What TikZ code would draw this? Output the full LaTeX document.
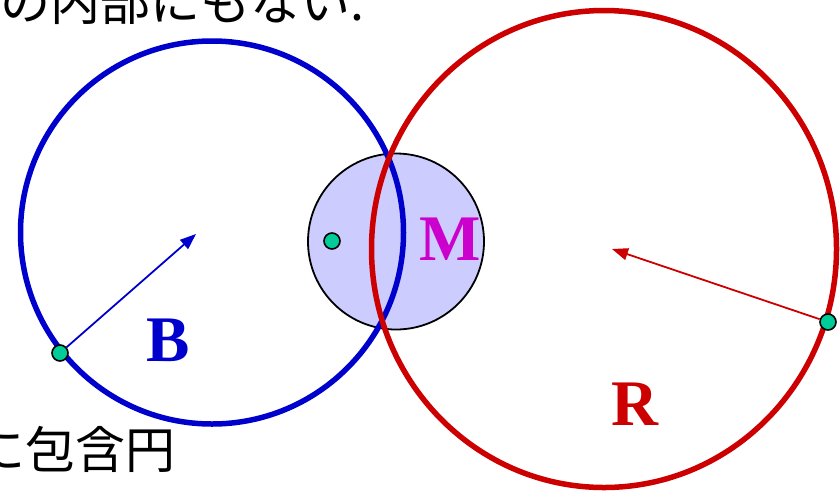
\documentclass[tikz,border=0pt]{standalone}
\usepackage{fontspec}
\setmainfont{Liberation Serif}
\newfontfamily\cjk{Noto Sans CJK JP}
\usetikzlibrary{arrows.meta,shapes.geometric}
\definecolor{bblue}{RGB}{0,0,204}
\definecolor{rred}{RGB}{204,0,0}
\definecolor{mmag}{RGB}{204,0,204}
\definecolor{mfill}{RGB}{204,204,255}
\definecolor{gdot}{RGB}{0,204,153}
\tikzset{
  bigcirc/.style={circle,inner sep=0pt,line width=5.5pt},
  dotnode/.style={circle,inner sep=0pt,minimum size=16pt,fill=gdot,draw=black,line width=1.6pt},
  radarrow/.style={line width=1.8pt,-{Triangle[length=16pt,width=12pt]}},
  lbl/.style={font=\fontsize{65}{70}\selectfont\bfseries,inner sep=0pt},
  jtxt/.style={font=\cjk\fontsize{50}{55}\selectfont,inner sep=0pt,anchor=base west}
}
\begin{document}
\begin{tikzpicture}[x=1pt,y=-1pt]
\useasboundingbox (0,0) rectangle (840,491);
% M circle
\node[circle,inner sep=0pt,minimum size=176pt,fill=mfill,draw=black,line width=1.8pt] (Mc) at (396,241.5) {};
% blue circle
\node[bigcirc,draw=bblue,minimum size=383pt] (Bc) at (212,232.5) {};
% red ellipse
\node[ellipse,inner sep=0pt,line width=5.5pt,draw=rred,minimum width=465pt,minimum height=477pt] (Rc) at (604,249) {};
% dots
\node[dotnode] (md) at (332,241) {};
\node[dotnode] (bd) at (60,353) {};
\node[dotnode] (rd) at (828,322) {};
% arrow targets
\coordinate (bt) at (196,234);
\coordinate (rt) at (612,249);
\draw[radarrow,draw=bblue,fill=bblue] (bd) -- (bt);
\draw[radarrow,draw=rred,fill=rred] (rd) -- (rt);
% labels
\node[lbl,text=bblue] (Bl) at (168,340) {B};
\node[lbl,text=mmag] (Ml) at (450,239) {M};
\node[lbl,text=rred] (Rl) at (635,404) {R};
% texts
\node[jtxt] (top) at (0,20) {の内部にもない.};
\node[jtxt] (bot) at (-25,468) {に包含円};
\end{tikzpicture}
\end{document}
